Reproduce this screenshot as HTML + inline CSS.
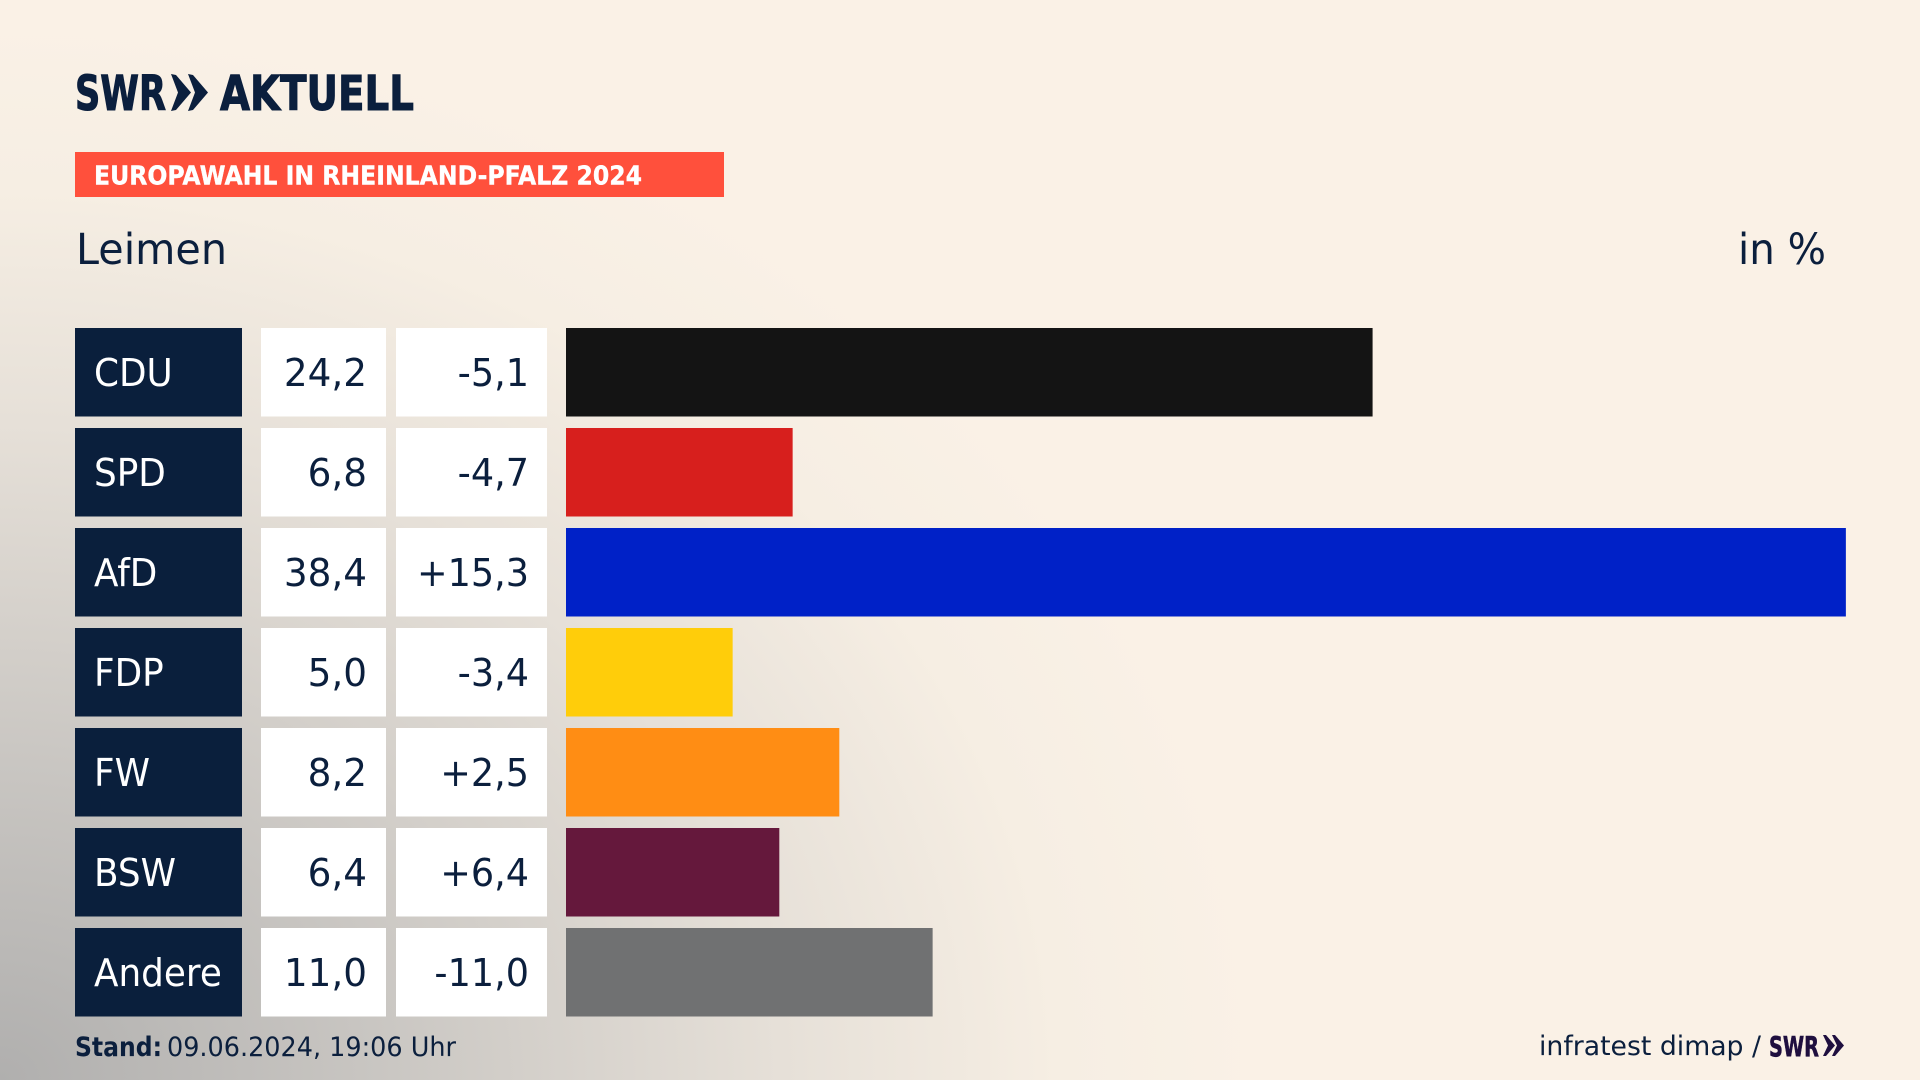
<!DOCTYPE html>
<html lang="de">
<head>
<meta charset="utf-8">
<title>Europawahl in Rheinland-Pfalz 2024 – Leimen</title>
<style>
html,body{margin:0;padding:0;width:1920px;height:1080px;overflow:hidden;background:#faf1e6}
#stage{position:absolute;left:0;top:0;width:1920px;height:1080px;
background:radial-gradient(ellipse 1260px 1060px at 0 100%,#b0afae 0%,#c9c6c2 30%,#e6e0d8 62%,#f6eee3 84%,#faf1e6 100%),#faf1e6}
svg{position:absolute;left:0;top:0;display:block}
text{font-family:"DejaVu Sans","Liberation Sans",sans-serif}
.ink{fill:#0b1f3d}
.heavy{stroke:#0b1f3d;stroke-width:1.1px}
.cell-label{fill:#0a1f3c}
.cell-value{fill:#ffffff}
.label-text{fill:#ffffff;font-size:38.5px}
.value-text{fill:#0b1f3d;font-size:38.5px}
.bar-0{fill:#141414}
.bar-1{fill:#d71f1d}
.bar-2{fill:#0021c7}
.bar-3{fill:#ffcd0a}
.bar-4{fill:#ff8d14}
.bar-5{fill:#65183c}
.bar-6{fill:#707172}
</style>
</head>
<body>
<div id="stage">
<svg id="chart" width="1920" height="1080" viewBox="0 0 1920 1080">
  <g>
    <text class="ink heavy" x="75" y="110" font-size="48" font-weight="700" textLength="91" lengthAdjust="spacingAndGlyphs">SWR</text>
    <polygon class="ink" points="171,74 176,75 191,92.5 176,110 171,111 178,92.5"/>
    <polygon class="ink" points="188,74 193,75 208,92.5 193,110 188,111 195,92.5"/>
    <text class="ink heavy" x="220" y="110" font-size="48" font-weight="700" textLength="194" lengthAdjust="spacingAndGlyphs">AKTUELL</text>
  </g>
  <rect x="75" y="152" width="649" height="45" fill="#ff503c"/>
  <text x="94" y="184.5" font-size="26" font-weight="700" fill="#ffffff" stroke="#ffffff" stroke-width="0.4" textLength="548" lengthAdjust="spacingAndGlyphs">EUROPAWAHL IN RHEINLAND-PFALZ 2024</text>
  <text class="ink" x="76" y="264" font-size="43" textLength="151" lengthAdjust="spacingAndGlyphs">Leimen</text>
  <text class="ink" x="1738" y="264" font-size="43" textLength="88" lengthAdjust="spacingAndGlyphs">in %</text>
  <g id="rows"></g>
  <text class="ink" x="75" y="1056" font-size="27" font-weight="700" textLength="87" lengthAdjust="spacingAndGlyphs">Stand:</text>
  <text class="ink" x="167" y="1056" font-size="27" textLength="289" lengthAdjust="spacingAndGlyphs">09.06.2024, 19:06 Uhr</text>
  <text class="ink" x="1539" y="1055" font-size="27" textLength="222" lengthAdjust="spacingAndGlyphs">infratest dimap /</text>
  <text x="1769" y="1056" font-size="28" font-weight="700" fill="#1f0f3f" stroke="#1f0f3f" stroke-width="0.6" textLength="50" lengthAdjust="spacingAndGlyphs">SWR</text>
  <polygon fill="#1f0f3f" points="1823,1035 1826,1035 1835,1045.5 1826,1056 1823,1056 1828,1045.5"/>
  <polygon fill="#1f0f3f" points="1832,1035 1835,1035 1844,1045.5 1835,1056 1832,1056 1837,1045.5"/>
</svg>
</div>
<script>
var parties = ["CDU", "SPD", "AfD", "FDP", "FW", "BSW", "Andere"];
var shares = [24.2, 6.8, 38.4, 5.0, 8.2, 6.4, 11.0];
var changes = [-5.1, -4.7, 15.3, -3.4, 2.5, 6.4, -11.0];

var SVG_NS = "http://www.w3.org/2000/svg";
var rowsGroup = document.getElementById("rows");

function xScale(value) { return 566 + value * 33.33; }
function rowY(index) { return 328 + index * 100; }
function formatShare(value) { return value.toFixed(1).replace(".", ","); }
function formatChange(value) { return (value > 0 ? "+" : "") + value.toFixed(1).replace(".", ","); }

function makeRect(x, y, w, h, cls) {
  var r = document.createElementNS(SVG_NS, "rect");
  r.setAttribute("x", x);
  r.setAttribute("y", y);
  r.setAttribute("width", w);
  r.setAttribute("height", h);
  r.setAttribute("class", cls);
  rowsGroup.appendChild(r);
  return r;
}
function makeText(str, x, y, sx, anchor, cls) {
  var t = document.createElementNS(SVG_NS, "text");
  t.setAttribute("transform", "translate(" + x + "," + y + ") scale(" + sx + ",1)");
  t.setAttribute("text-anchor", anchor);
  t.setAttribute("class", cls);
  t.textContent = str;
  rowsGroup.appendChild(t);
  return t;
}

parties.forEach(function (party, i) {
  var slug = party.toLowerCase();
  var top = rowY(i);
  var rowH = 88.5;
  var baseline = top + 58;

  var labelCell = makeRect(75, top, 167, rowH, "cell-label");
  
  

  var labelText = makeText(party, 94, baseline, 0.93, "start", "label-text");
  
  

  var shareCell = makeRect(261, top, 125, rowH, "cell-value");
  
  

  var shareText = makeText(formatShare(shares[i]), 367, baseline, 0.97, "end", "value-text");
  
  

  var changeCell = makeRect(396, top, 151, rowH, "cell-value");
  
  

  var changeText = makeText(formatChange(changes[i]), 529, baseline, 0.95, "end", "value-text");
  
  

  var bar = makeRect(xScale(0), top, xScale(shares[i]) - xScale(0), rowH, "bar-" + i);
  
  
});
</script>
</body>
</html>
